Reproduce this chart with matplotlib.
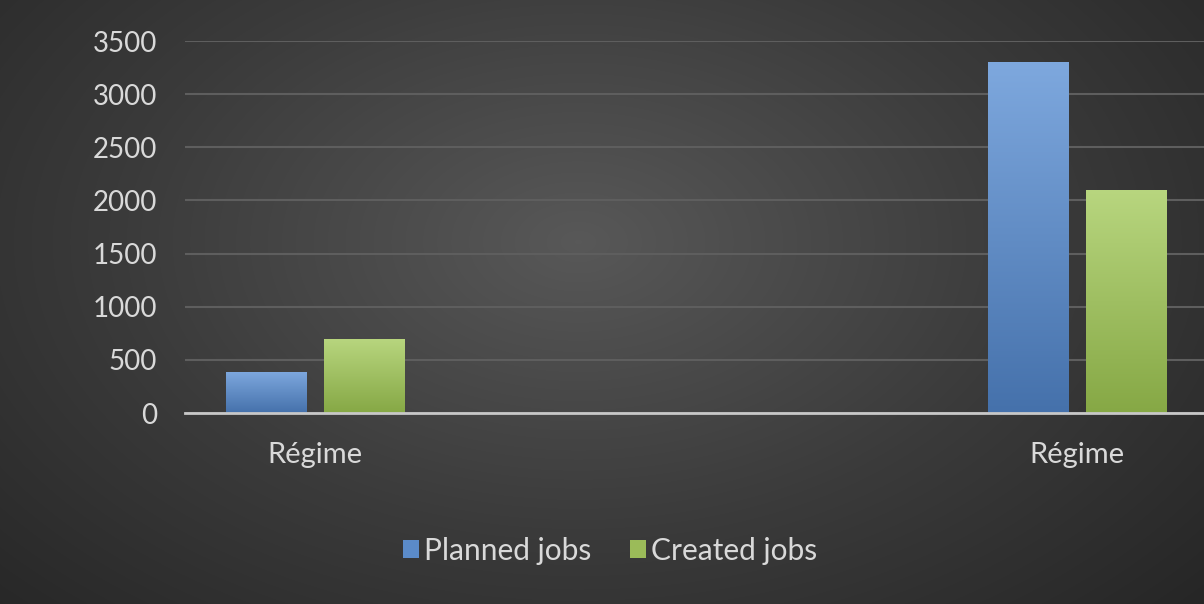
import numpy as np
import matplotlib
matplotlib.use("Agg")
import matplotlib.pyplot as plt
from matplotlib.colors import LinearSegmentedColormap
from matplotlib.patches import Patch

categories = ["Régime", "Régime"]
planned = [390, 3300]
created = [700, 2100]
series_names = ["Planned jobs", "Created jobs"]
yticks = [0, 500, 1000, 1500, 2000, 2500, 3000, 3500]

plt.rcParams['font.family'] = ['Lato', 'DejaVu Sans']

W, H = 1204, 604
fig = plt.figure(figsize=(W/100, H/100), dpi=100)

# radial gradient background
bg = fig.add_axes([0, 0, 1, 1])
yy, xx = np.mgrid[0:H, 0:W]
cx, cy = W*0.48, H*0.40
r = np.sqrt(((xx-cx)/(W*0.75))**2 + ((yy-cy)/(H*0.95))**2)
r = np.clip(r, 0, 1)
cmap_bg = LinearSegmentedColormap.from_list("bg", ["#585858", "#3b3b3b", "#232323"])
bg.imshow(r, cmap=cmap_bg, aspect='auto', extent=[0, 1, 0, 1], vmin=0, vmax=1)
bg.axis('off')

left = 185/W
bottom = 1 - 413/H
top = 1 - 41/H
ax = fig.add_axes([left, bottom, 1 - left, top - bottom])
ax.set_facecolor('none')
ax.patch.set_alpha(0)

x = np.arange(len(categories))
bw = 0.105
off = 0.0637
b1 = ax.bar(x - off, planned, bw, color='#5b8bc9', zorder=3, label=series_names[0])
b2 = ax.bar(x + off, created, bw, color='#9bbb59', zorder=3, label=series_names[1])

def grad_fill(bars, ctop, cbot):
    cm = LinearSegmentedColormap.from_list("g", [cbot, ctop])
    grad = np.linspace(0, 1, 256).reshape(-1, 1)
    for b in bars:
        bx, by = b.get_x(), b.get_y()
        w, h = b.get_width(), b.get_height()
        im = ax.imshow(grad, cmap=cm, aspect='auto', origin='lower',
                       extent=[bx, bx + w, by, by + h], zorder=4)
        im.set_clip_path(b)
        b.set_edgecolor('none')

grad_fill(b1, '#7ea8de', '#4571ab')
grad_fill(b2, '#b8d67f', '#86a845')
ax.set_xlim(-130/762, (1204-315)/762)
ax.set_ylim(0, 3500)

ax.set_yticks(yticks)
ax.yaxis.grid(True, color='#5e5e5e', linewidth=1.5, zorder=0)
ax.set_axisbelow(True)
for s in ['top', 'right', 'left']:
    ax.spines[s].set_visible(False)
ax.spines['bottom'].set_color('#c8c8c8')
ax.spines['bottom'].set_linewidth(2)
ax.spines['bottom'].set_zorder(5)
ax.tick_params(axis='y', length=0, pad=20, labelsize=20, labelcolor='#d9d9d9')
ax.tick_params(axis='x', length=0, pad=21, labelsize=21, labelcolor='#d9d9d9')
ax.set_xticks(x)
ax.set_xticklabels(categories)

handles = [Patch(facecolor='#5b8bc9', label=series_names[0]),
           Patch(facecolor='#9bbb59', label=series_names[1])]
leg = fig.legend(handles=handles, loc='center', bbox_to_anchor=(610/W, 1 - 551/H),
                 ncol=2, frameon=False, fontsize=21.5, labelcolor='#d9d9d9',
                 handlelength=0.55, handleheight=0.55, handletextpad=0.15,
                 columnspacing=1.3)

fig.savefig("out.png", dpi=100)
